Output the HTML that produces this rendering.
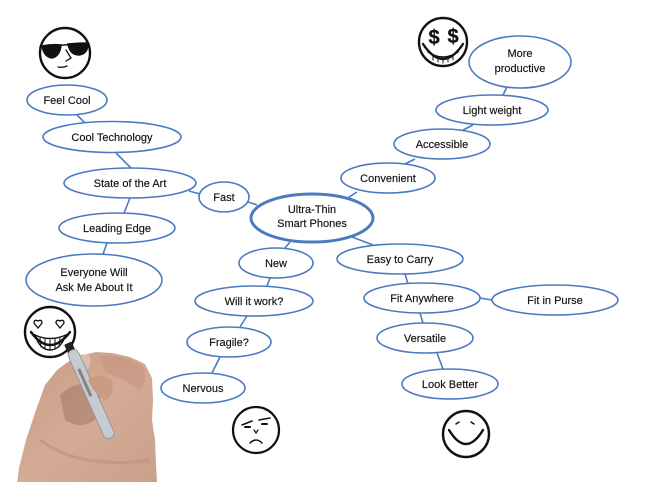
<!DOCTYPE html>
<html><head><meta charset="utf-8"><style>
html,body{margin:0;padding:0;background:#fff;}
svg{display:block;}
text{font-family:"Liberation Sans",sans-serif;font-size:11px;fill:#111;text-anchor:middle;stroke:#111;stroke-width:0.15px;}
</style></head><body>
<svg width="650" height="484" viewBox="0 0 650 484" xmlns="http://www.w3.org/2000/svg">
<defs>
<linearGradient id="skin" x1="0" y1="0" x2="1" y2="1">
<stop offset="0" stop-color="#c99a82"/><stop offset="0.5" stop-color="#d4ab95"/><stop offset="1" stop-color="#caa08b"/>
</linearGradient>
</defs>
<rect width="650" height="484" fill="#fff"/>
<g stroke="#4a7bc0" stroke-width="1.6" fill="none">
<line x1="77" y1="115" x2="85" y2="123"/>
<line x1="116" y1="153" x2="131" y2="168"/>
<line x1="189" y1="191" x2="200" y2="194"/>
<line x1="248" y1="202" x2="257" y2="205"/>
<line x1="130" y1="198" x2="124" y2="213"/>
<line x1="107" y1="243" x2="103" y2="254"/>
<line x1="290" y1="242" x2="285" y2="248"/>
<line x1="270" y1="278" x2="267" y2="286"/>
<line x1="247" y1="316" x2="240" y2="327"/>
<line x1="220" y1="357" x2="212" y2="373"/>
<line x1="507" y1="87" x2="503" y2="95"/>
<line x1="473" y1="125" x2="463" y2="130"/>
<line x1="415" y1="159" x2="405" y2="164"/>
<line x1="357" y1="192" x2="346" y2="199"/>
<line x1="352" y1="237" x2="373" y2="245"/>
<line x1="405" y1="274" x2="408" y2="284"/>
<line x1="480" y1="298" x2="492" y2="300"/>
<line x1="420" y1="313" x2="423" y2="323"/>
<line x1="437" y1="353" x2="443" y2="369"/>
<ellipse cx="67" cy="100" rx="40" ry="15"/>
<ellipse cx="112" cy="137" rx="69" ry="15.5"/>
<ellipse cx="130" cy="183" rx="66" ry="15"/>
<ellipse cx="224" cy="197" rx="25" ry="15"/>
<ellipse cx="117" cy="228" rx="58" ry="15"/>
<ellipse cx="94" cy="280" rx="68" ry="26"/>
<ellipse cx="276" cy="263" rx="37" ry="15"/>
<ellipse cx="254" cy="301" rx="59" ry="15"/>
<ellipse cx="229" cy="342" rx="42" ry="15"/>
<ellipse cx="203" cy="388" rx="42" ry="15"/>
<ellipse cx="520" cy="62" rx="51" ry="26"/>
<ellipse cx="492" cy="110" rx="56" ry="15"/>
<ellipse cx="442" cy="144" rx="48" ry="15"/>
<ellipse cx="388" cy="178" rx="47" ry="15"/>
<ellipse cx="400" cy="259" rx="63" ry="15"/>
<ellipse cx="422" cy="298" rx="58" ry="15"/>
<ellipse cx="555" cy="300" rx="63" ry="15"/>
<ellipse cx="425" cy="338" rx="48" ry="15"/>
<ellipse cx="450" cy="384" rx="48" ry="15"/>
<ellipse cx="312" cy="218" rx="61" ry="24" stroke-width="3"/>
</g>
<text x="67" y="104">Feel Cool</text>
<text x="112" y="141">Cool Technology</text>
<text x="130" y="187">State of the Art</text>
<text x="224" y="201">Fast</text>
<text x="312" y="213">Ultra-Thin</text>
<text x="312" y="227">Smart Phones</text>
<text x="117" y="232">Leading Edge</text>
<text x="94" y="276">Everyone Will</text>
<text x="94" y="291">Ask Me About It</text>
<text x="276" y="267">New</text>
<text x="254" y="305">Will it work?</text>
<text x="229" y="346">Fragile?</text>
<text x="203" y="392">Nervous</text>
<text x="520" y="57">More</text>
<text x="520" y="72">productive</text>
<text x="492" y="114">Light weight</text>
<text x="442" y="148">Accessible</text>
<text x="388" y="182">Convenient</text>
<text x="400" y="263">Easy to Carry</text>
<text x="422" y="302">Fit Anywhere</text>
<text x="555" y="304">Fit in Purse</text>
<text x="425" y="342">Versatile</text>
<text x="450" y="388">Look Better</text>

<!-- sunglasses face -->
<g stroke="#111" stroke-width="2.4" fill="none" stroke-linecap="round">
<circle cx="65" cy="53" r="25"/>
<path d="M40 47 L88 43" stroke-width="1.5"/>
<path d="M42 46 Q52 44 61 45 Q60 56 52 58 Q44 57 42 46 Z" fill="#111" stroke-width="1.5"/>
<path d="M68 44 Q78 43 88 43 Q88 54 79 55 Q70 55 68 44 Z" fill="#111" stroke-width="1.5"/>
<path d="M66 50 L71 58 L66 61" stroke-width="1.3"/>
<path d="M58 67 Q63 68 67 66" stroke-width="1.3"/>
</g>
<!-- dollar face -->
<g stroke="#111" stroke-width="2.4" fill="none" stroke-linecap="round">
<circle cx="443" cy="42" r="24"/>
<path d="M423 44 Q443 74 463 44" />
<path d="M428 52 Q443 62 458 52" stroke-width="1.4"/>
<path d="M433 55 L433 60 M438 57 L438 62 M443 58 L443 63 M448 57 L448 62 M453 55 L453 60" stroke-width="1"/>
</g>
<text x="434" y="44" style="font-size:20px;font-weight:bold;stroke-width:0.3px">$</text>
<text x="453" y="43" style="font-size:20px;font-weight:bold;stroke-width:0.3px">$</text>
<!-- heart eyes face -->
<g stroke="#111" stroke-width="2.4" fill="none" stroke-linecap="round">
<circle cx="50" cy="332" r="25"/>
<path d="M38 328 L34 323 Q34 319 38 321 Q42 319 42 323 Z" stroke-width="1.3"/>
<path d="M60 328 L56 323 Q56 319 60 321 Q64 319 64 323 Z" stroke-width="1.3"/>
<path d="M31 332 Q50 358 70 332"/>
<path d="M35 335 Q50 342 66 335 Q60 350 50 350 Q40 350 35 335 Z" stroke-width="1.4"/>
<path d="M40 338 L41 347 M45 339 L45 349 M50 340 L50 350 M55 339 L55 349 M60 338 L59 347" stroke-width="1"/>
</g>
<!-- grumpy face -->
<g stroke="#111" stroke-width="2.2" fill="none" stroke-linecap="round">
<circle cx="256" cy="430" r="23"/>
<path d="M242 425 L252 421 M259 420 L270 418" stroke-width="1.5"/>
<path d="M245 427 L250 427 M262 424 L267 424" stroke-width="2"/>
<path d="M254 430 L256 433 L258 430" stroke-width="1.2"/>
<path d="M250 443 Q256 437 262 443" stroke-width="1.5"/>
</g>
<!-- smiley -->
<g stroke="#111" stroke-width="2.4" fill="none" stroke-linecap="round">
<circle cx="466" cy="434" r="23"/>
<path d="M456 424 L459 422 M471 422 L474 424" stroke-width="1.5"/>
<path d="M449 430 Q466 458 483 430" />
</g>
<!-- hand -->
<path d="M17 484 L19 468 L26 440 L36 410 L45 385 L57 370 L72 359 L84 355 L96 352 L112 353 L130 357 L145 364 L152 378 L153 400 L152 420 L155 440 L156 465 L157 482 L17 482 Z" fill="url(#skin)"/>
<path d="M60 395 Q75 380 95 385 Q105 400 95 420 Q80 430 65 420 Z" fill="#9e7260" opacity="0.5"/>
<path d="M75 358 Q82 352 90 356 Q92 366 85 372 Q76 372 75 358 Z" fill="#dcbcaa"/>
<path d="M100 356 Q125 354 143 366 Q148 380 140 390 Q125 380 105 372 Z" fill="#c49580" opacity="0.6"/>
<path d="M40 440 Q80 470 150 460" stroke="#b88d78" stroke-width="3" fill="none" opacity="0.5"/>
<!-- marker -->
<g transform="translate(72,350) rotate(-24)">
<rect x="-5" y="-8" width="8" height="10" fill="#222" rx="1"/>
<rect x="-6" y="0" width="11" height="96" rx="5" fill="#c5cbd1" stroke="#8b939b" stroke-width="0.8"/>
<rect x="-3" y="20" width="3" height="30" fill="#555" opacity="0.6"/>
</g>
<path d="M88 380 Q100 372 112 380 Q115 395 105 400 Q95 396 88 380 Z" fill="#c99a82" opacity="0.9"/>
</svg>
</body></html>
